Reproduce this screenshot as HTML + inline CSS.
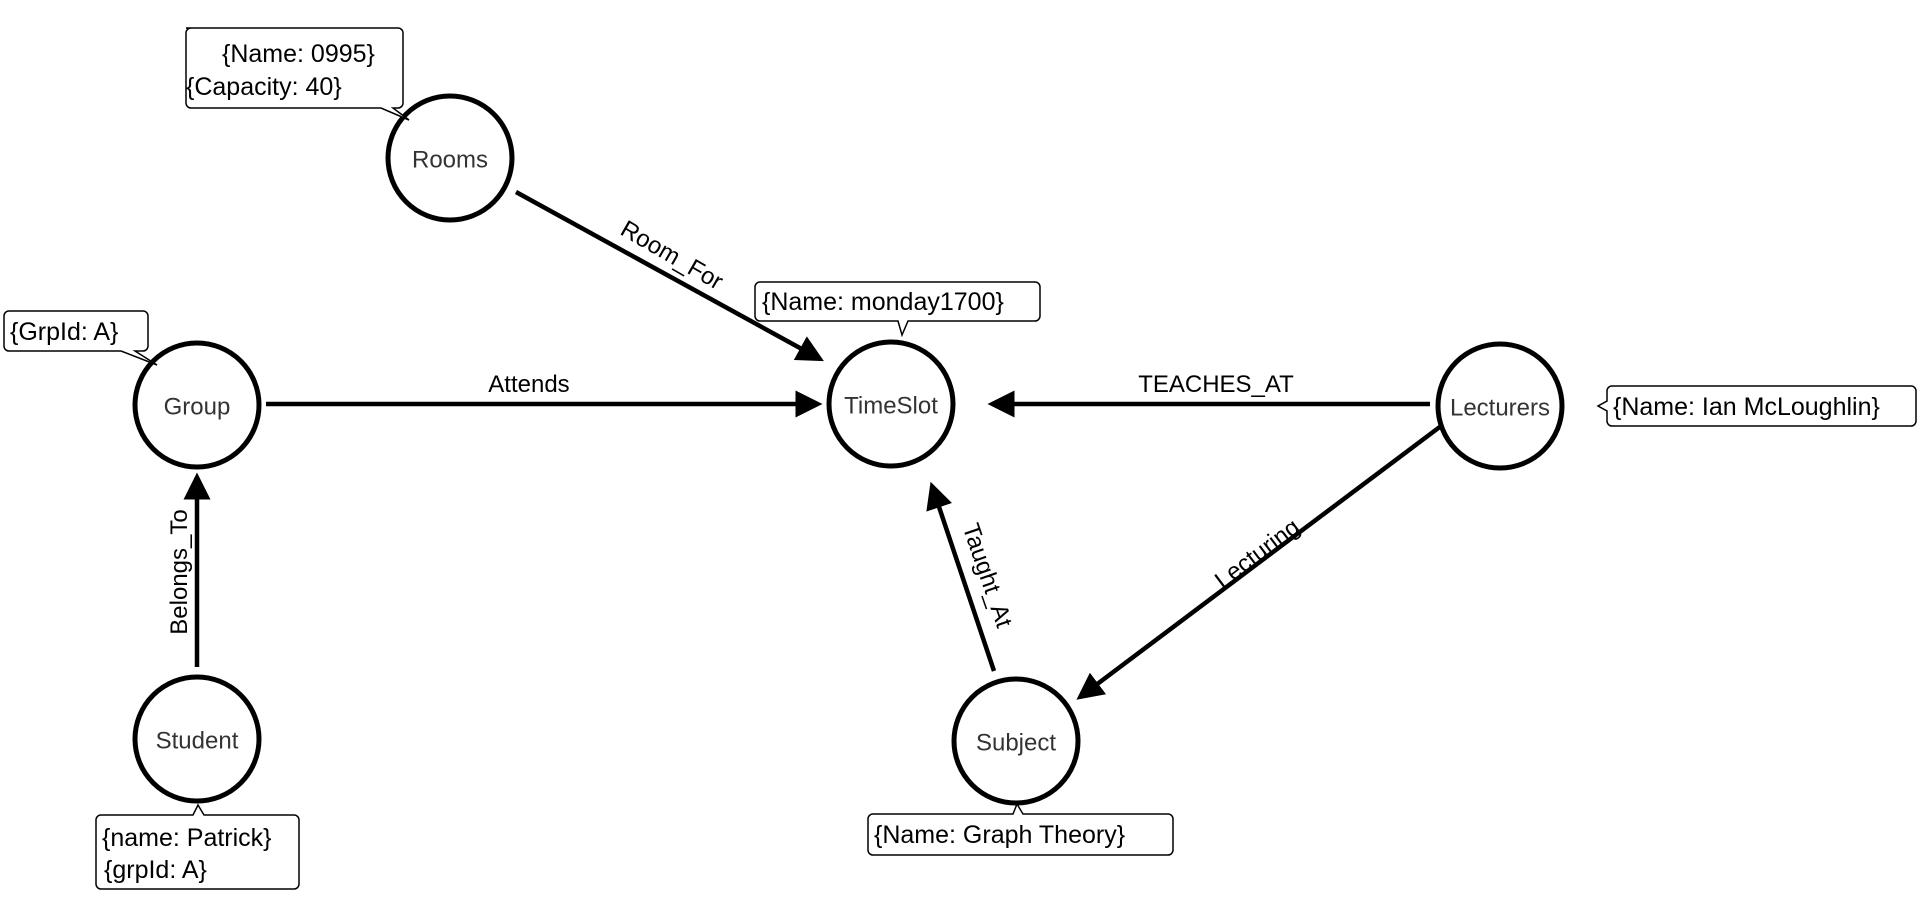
<!DOCTYPE html>
<html><head><meta charset="utf-8"><style>
html,body{margin:0;padding:0;background:#fff;}
svg{display:block;}
text{font-family:"Liberation Sans",sans-serif;}
.n{font-size:24px;fill:#333;text-anchor:middle;dominant-baseline:central;}
.l{font-size:25px;fill:#000;}
.e{font-size:24px;fill:#000;text-anchor:middle;}
</style></head><body>
<svg width="1920" height="909" viewBox="0 0 1920 909" xmlns="http://www.w3.org/2000/svg">
<defs>
<marker id="a" markerWidth="6" markerHeight="6" refX="5" refY="3" orient="auto" markerUnits="strokeWidth">
<path d="M0,0 L6,3 L0,6 z" fill="#000"/>
</marker>
</defs>
<g stroke="#000" stroke-width="4.5" fill="none">
<line x1="516" y1="192" x2="820" y2="359" marker-end="url(#a)"/>
<line x1="266" y1="404" x2="818" y2="404" marker-end="url(#a)"/>
<line x1="1430" y1="404" x2="992" y2="404" marker-end="url(#a)"/>
<line x1="1449" y1="420" x2="1080" y2="697" marker-end="url(#a)"/>
<line x1="994" y1="671" x2="932" y2="486" marker-end="url(#a)"/>
<line x1="197" y1="667" x2="197" y2="477" marker-end="url(#a)"/>
</g>
<g stroke="#000" stroke-width="5" fill="#fff">
<circle cx="450" cy="158" r="62"/>
<circle cx="197" cy="405" r="62"/>
<circle cx="891" cy="404" r="62"/>
<circle cx="1500" cy="406" r="62"/>
<circle cx="1016" cy="741" r="62"/>
<circle cx="197" cy="739" r="62"/>
</g>
<text class="n" x="450" y="160">Rooms</text>
<text class="n" x="197" y="407">Group</text>
<text class="n" x="891" y="406">TimeSlot</text>
<text class="n" x="1500" y="408">Lecturers</text>
<text class="n" x="1016" y="743">Subject</text>
<text class="n" x="197" y="741">Student</text>
<g stroke="#000" stroke-width="1.5" fill="#fff">
<path d="M186,28 h212 a5,5 0 0 1 5,5 v70 a5,5 0 0 1 -5,5 h-5 l16,12 l-28,-12 h-190 a5,5 0 0 1 -5,-5 v-70 a5,5 0 0 1 5,-5 z"/>
<path d="M9,311 h134 a5,5 0 0 1 5,5 v30 a5,5 0 0 1 -5,5 h-8 l22,14 l-36,-14 h-112 a5,5 0 0 1 -5,-5 v-30 a5,5 0 0 1 5,-5 z"/>
<path d="M760,282 h275 a5,5 0 0 1 5,5 v29 a5,5 0 0 1 -5,5 h-127 l-6,14 l-4,-14 h-138 a5,5 0 0 1 -5,-5 v-29 a5,5 0 0 1 5,-5 z"/>
<path d="M1612,386 h299 a5,5 0 0 1 5,5 v30 a5,5 0 0 1 -5,5 h-299 a5,5 0 0 1 -5,-5 v-10 l-9,-5 l9,-5 v-10 a5,5 0 0 1 5,-5 z"/>
<path d="M873,814 h140 l4,-10 l6,10 h145 a5,5 0 0 1 5,5 v31 a5,5 0 0 1 -5,5 h-295 a5,5 0 0 1 -5,-5 v-31 a5,5 0 0 1 5,-5 z"/>
<path d="M101,815 h92 l5,-10 l6,10 h90 a5,5 0 0 1 5,5 v64 a5,5 0 0 1 -5,5 h-193 a5,5 0 0 1 -5,-5 v-64 a5,5 0 0 1 5,-5 z"/>
</g>
<text class="l" x="222" y="62">{Name: 0995}</text>
<text class="l" x="186" y="95">{Capacity: 40}</text>
<text class="l" x="10" y="340">{GrpId: A}</text>
<text class="l" x="762" y="310">{Name: monday1700}</text>
<text class="l" x="1613" y="415">{Name: Ian McLoughlin}</text>
<text class="l" x="874" y="843">{Name: Graph Theory}</text>
<text class="l" x="102" y="846">{name: Patrick}</text>
<text class="l" x="104" y="878">{grpId: A}</text>
<text class="e" x="529" y="392">Attends</text>
<text class="e" x="1216" y="392">TEACHES_AT</text>
<text class="e" transform="translate(668,262) rotate(30)">Room_For</text>
<text class="e" transform="translate(1262,560) rotate(-37)">Lecturing</text>
<text class="e" transform="translate(980,578) rotate(71)">Taught_At</text>
<text class="e" transform="translate(187,572) rotate(-90)">Belongs_To</text>
</svg>
</body></html>
